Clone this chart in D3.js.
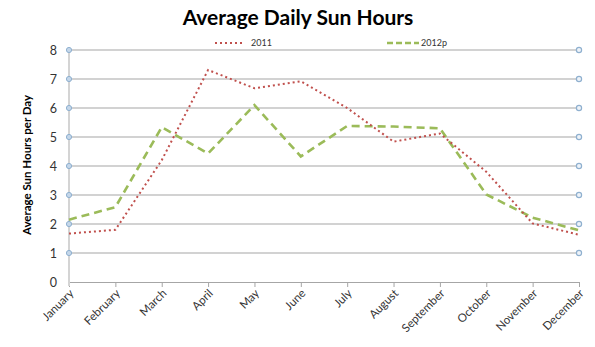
<!DOCTYPE html>
<html><head><meta charset="utf-8">
<script src="https://cdn.jsdelivr.net/npm/d3@7"></script>
<style>body{margin:0;background:#fff;}svg{display:block;font-family:Lato,"Open Sans",sans-serif;}</style>
</head><body><svg id="c" width="595" height="347"></svg>
<script>
const months = ["January","February","March","April","May","June","July","August","September","October","November","December"];
const s2011 = [1.67,1.8,4.2,7.31,6.68,6.92,6.0,4.84,5.12,3.8,2.02,1.63];
const s2012p = [2.15,2.58,5.34,4.43,6.1,4.33,5.38,5.36,5.3,3.02,2.22,1.78];
const yTicks = [0,1,2,3,4,5,6,7,8];
const seriesNames = ["2011","2012p"];

const svg = d3.select("#c");
const x = d3.scalePoint().domain(months).range([69,579]);
const y = d3.scaleLinear().domain([0,8]).range([282,50]);

// gridlines
svg.append("g").selectAll("line").data(yTicks.filter(d=>d>0)).join("line")
  .attr("x1",69).attr("x2",579).attr("y1",d=>y(d)).attr("y2",d=>y(d))
  .attr("stroke","#a6a6a6").attr("stroke-width",1.2);

// x axis
const xa = svg.append("g").attr("transform","translate(0,282)").call(d3.axisBottom(x).tickSize(5).tickSizeOuter(0));
xa.select(".domain").attr("stroke","#a6a6a6").attr("stroke-width",1.2);
xa.selectAll(".tick line").attr("stroke","#a6a6a6");
xa.selectAll("text").attr("font-size",11.5).attr("fill","#333").attr("font-family","Lato,'Open Sans',sans-serif")
  .attr("text-anchor","end").attr("dy",0).attr("dx",0).attr("y",0)
  .attr("transform","translate(5,12) rotate(-45)");

// left axis line
svg.append("line").attr("x1",69).attr("x2",69).attr("y1",y(8)).attr("y2",y(0)+4)
  .attr("stroke","#d4d4d4").attr("stroke-width",2);

// y axis labels
const ya = svg.append("g").attr("transform","translate(69,0)").call(d3.axisLeft(y).tickValues(yTicks).tickSize(0).tickPadding(12));
ya.select(".domain").remove();
ya.selectAll("text").attr("font-size",12.5).attr("fill","#333").attr("font-family","Lato,'Open Sans',sans-serif");

// circle markers left and right
const mk = svg.append("g");
mk.selectAll("circle.l").data(yTicks.filter(d=>d>0)).join("circle").attr("class","l")
  .attr("cx",69).attr("cy",d=>y(d)).attr("r",2.6).attr("fill","#c5d7ea").attr("stroke","#8fb0cf").attr("stroke-width",1);
mk.selectAll("circle.r").data(yTicks.filter(d=>d>0)).join("circle").attr("class","r")
  .attr("cx",579).attr("cy",d=>y(d)).attr("r",2.6).attr("fill","#eef3f9").attr("stroke","#8fb0cf").attr("stroke-width",1.2);

// series
const line = d3.line().x((d,i)=>x(months[i])).y(d=>y(d));
svg.append("path").datum(s2012p).attr("d",line).attr("fill","none")
  .attr("stroke","#9bbb59").attr("stroke-width",2.6).attr("stroke-dasharray","8,5");
svg.append("path").datum(s2011).attr("d",line).attr("fill","none")
  .attr("stroke","#c0504d").attr("stroke-width",2).attr("stroke-dasharray","2,3");

// legend
const lg = svg.append("g").attr("font-size",9).attr("fill","#333");
lg.append("line").attr("x1",215).attr("x2",244).attr("y1",43).attr("y2",43)
  .attr("stroke","#c0504d").attr("stroke-width",2).attr("stroke-dasharray","2,3");
lg.append("text").attr("x",251).attr("y",46).text(seriesNames[0]);
lg.append("line").attr("x1",387).attr("x2",419).attr("y1",43).attr("y2",43)
  .attr("stroke","#9bbb59").attr("stroke-width",2.6).attr("stroke-dasharray","6,3");
lg.append("text").attr("x",421).attr("y",46).text(seriesNames[1]);

// title
svg.append("text").attr("x",298).attr("y",25).attr("text-anchor","middle")
  .attr("font-size",21).attr("font-weight","bold").attr("fill","#000").text("Average Daily Sun Hours");

// y title
svg.append("text").attr("transform","translate(31,165) rotate(-90)").attr("text-anchor","middle")
  .attr("font-size",11.5).attr("font-weight","bold").attr("fill","#000").text("Average Sun Hours per Day");
</script></body></html>
